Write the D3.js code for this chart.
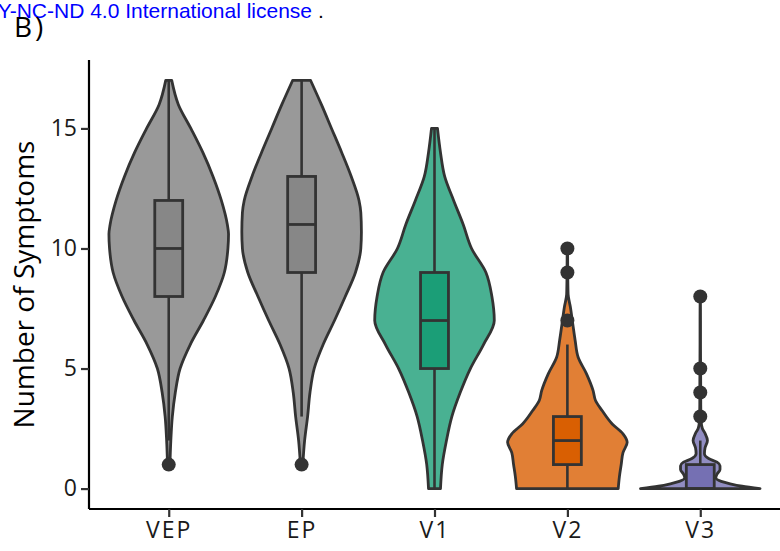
<!DOCTYPE html>
<html>
<head>
<meta charset="utf-8">
<script src="https://cdn.jsdelivr.net/npm/d3@7/dist/d3.min.js"></script>
<style>
  html, body { margin: 0; padding: 0; background: #fff; }
  svg { display: block; }
</style>
</head>
<body>
<svg id="chart" width="780" height="551"></svg>
<script>
// ---------- data ----------
const categories = ["VEP", "EP", "V1", "V2", "V3"];
const violinColors = ["#999999", "#999999", "#49B192", "#E17F35", "#918DC2"];
const boxColors = ["#878787", "#878787", "#1B9E77", "#D95F02", "#7570B3"];

const q1 = [8, 9, 5, 1, 0];
const medians = [10, 11, 7, 2, 0];
const q3 = [12, 13, 9, 3, 1];
const whiskerLow = [2, 3, 0, 0, 0];
const whiskerHigh = [17, 17, 15, 6, 2];
const outliers = [[1], [1], [], [7, 9, 10], [3, 4, 5, 8]];

// relative violin half-widths [value, width]
const densityVEP = [[1,0.02],[2,0.035],[3,0.06],[4,0.11],[5,0.19],[6,0.36],[7,0.58],[8,0.78],[9,0.93],[10,0.99],[10.6,1.0],[11,0.98],[12,0.88],[13,0.74],[14,0.57],[15,0.37],[16,0.16],[17,0.05]];
const densityEP  = [[1,0.02],[2,0.05],[3,0.1],[4,0.14],[5,0.21],[6,0.36],[7,0.55],[8,0.73],[9,0.9],[10,0.99],[10.7,1.0],[11.5,0.99],[12,0.96],[13,0.83],[14,0.67],[15,0.5],[16,0.33],[17,0.15]];
const densityV1  = [[0,0.1],[1,0.13],[2,0.2],[3,0.29],[4,0.43],[5,0.6],[6,0.82],[7,1.0],[8,0.96],[9,0.86],[10,0.62],[11,0.48],[12,0.32],[13,0.17],[14,0.1],[15,0.05]];
const densityV2  = [[0,0.85],[0.5,0.87],[1,0.9],[1.5,0.93],[1.93,1.0],[2.28,0.93],[2.69,0.75],[3.25,0.58],[3.67,0.47],[4.08,0.43],[4.78,0.32],[5.47,0.18],[6.17,0.13],[6.86,0.09],[7.56,0.05],[8.1,0.012],[9,0.006],[10,0.004]];
const densityV3  = [[0,1.0],[0.1,0.7],[0.2,0.5],[0.3,0.35],[0.45,0.26],[0.6,0.28],[0.8,0.33],[0.95,0.33],[1.1,0.28],[1.25,0.14],[1.45,0.07],[1.7,0.08],[2.0,0.12],[2.3,0.08],[2.5,0.035],[2.8,0.015],[3.5,0.008],[4,0.008],[5,0.006],[6,0.004],[7,0.004],[8,0.002]];
const densities = [densityVEP, densityEP, densityV1, densityV2, densityV3];

const yTicks = [0, 5, 10, 15];
const yTitle = "Number of Symptoms";
const panelLabel = "B)";
const headerText = "Y-NC-ND 4.0 International license";

// ---------- layout ----------
const svg = d3.select("#chart");
const pLeft = 89, pRight = 780, pTop = 60, pBottom = 509;

const x = d3.scalePoint().domain(categories).range([pLeft, pRight]).padding(0.6);
const y = d3.scaleLinear().domain([-0.85, 17.85]).range([pBottom, pTop]);
const step = x.step();
const halfMax = 0.45 * step;
const boxHalf = 0.105 * step;
const ink = "#333333";

// header texts
svg.append("text")
  .attr("x", 312).attr("y", 18)
  .attr("text-anchor", "end")
  .attr("font-family", "Liberation Sans, Arial, sans-serif")
  .attr("font-size", 21)
  .attr("fill", "#0000FF")
  .text(headerText);
svg.append("text")
  .attr("x", 318).attr("y", 18)
  .attr("font-family", "Liberation Sans, Arial, sans-serif")
  .attr("font-size", 21)
  .attr("fill", "#000")
  .text(".");
svg.append("text")
  .attr("x", 14).attr("y", 37)
  .attr("font-family", "Open Sans, sans-serif")
  .attr("font-size", 28)
  .attr("letter-spacing", 3)
  .attr("fill", "#000")
  .text(panelLabel);

// ---------- violins & boxes ----------
const area = d3.area()
  .curve(d3.curveMonotoneY);

categories.forEach((cat, i) => {
  const cx = x(cat);
  const g = svg.append("g");
  area.y(d => y(d[0]))
      .x0(d => cx - d[1] * halfMax)
      .x1(d => cx + d[1] * halfMax);
  g.append("path")
    .attr("d", area(densities[i]))
    .attr("fill", violinColors[i])
    .attr("stroke", ink)
    .attr("stroke-width", 2.8)
    .attr("stroke-linejoin", "round");

  // whiskers
  g.append("line")
    .attr("x1", cx).attr("x2", cx)
    .attr("y1", y(q3[i])).attr("y2", y(whiskerHigh[i]))
    .attr("stroke", ink).attr("stroke-width", 2.6);
  g.append("line")
    .attr("x1", cx).attr("x2", cx)
    .attr("y1", y(q1[i])).attr("y2", y(whiskerLow[i]))
    .attr("stroke", ink).attr("stroke-width", 2.6);
  // box
  g.append("rect")
    .attr("x", cx - boxHalf).attr("width", 2 * boxHalf)
    .attr("y", y(q3[i])).attr("height", y(q1[i]) - y(q3[i]))
    .attr("fill", boxColors[i])
    .attr("stroke", ink).attr("stroke-width", 2.8);
  g.append("line")
    .attr("x1", cx - boxHalf).attr("x2", cx + boxHalf)
    .attr("y1", y(medians[i])).attr("y2", y(medians[i]))
    .attr("stroke", ink).attr("stroke-width", 2.8);
  // outliers
  g.selectAll("circle").data(outliers[i]).enter().append("circle")
    .attr("cx", cx).attr("cy", d => y(d))
    .attr("r", 7)
    .attr("fill", ink);
});

// ---------- axes ----------
const yAxis = svg.append("g")
  .attr("transform", `translate(${pLeft},0)`)
  .call(d3.axisLeft(y).tickValues(yTicks).tickSize(8).tickPadding(4));
const xAxis = svg.append("g")
  .attr("transform", `translate(0,${pBottom})`)
  .call(d3.axisBottom(x).tickSize(8).tickPadding(5));

[yAxis, xAxis].forEach(ax => {
  ax.select(".domain").attr("stroke", "#000").attr("stroke-width", 2.2);
  ax.selectAll(".tick line").attr("stroke", ink).attr("stroke-width", 2.2);
  ax.selectAll(".tick text")
    .attr("font-family", "Open Sans, sans-serif")
    .attr("font-size", 23)
    .attr("fill", "#1a1a1a");
});
yAxis.select(".domain").attr("d", `M0,${pTop}V${pBottom}`);
xAxis.select(".domain").attr("d", `M${pLeft},0H${pRight}`);
xAxis.selectAll(".tick text").attr("letter-spacing", 2);

svg.append("text")
  .attr("transform", `translate(34,${(pTop + pBottom) / 2}) rotate(-90)`)
  .attr("text-anchor", "middle")
  .attr("font-family", "Open Sans, sans-serif")
  .attr("font-size", 28)
  .attr("fill", "#000")
  .text(yTitle);
</script>
</body>
</html>
